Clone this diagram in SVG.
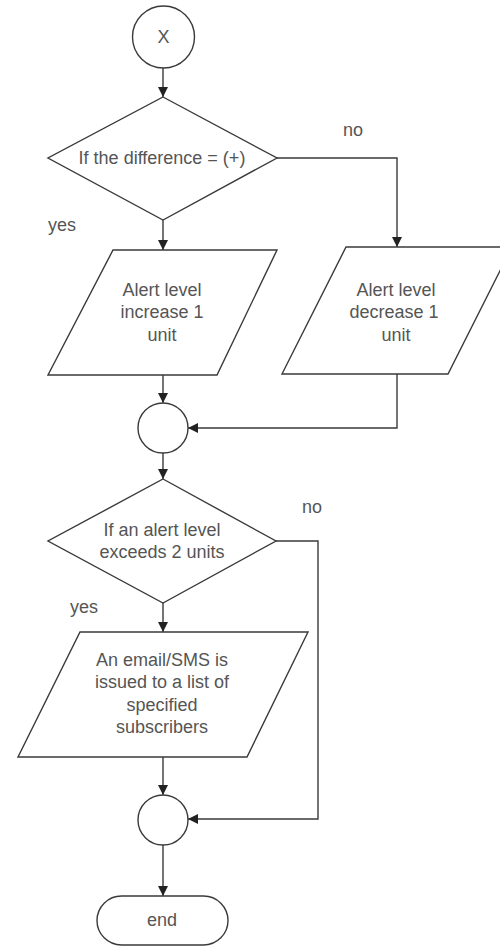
<svg xmlns="http://www.w3.org/2000/svg" width="500" height="947" viewBox="0 0 500 947">
<style>
.s{fill:#fff;stroke:#3a3a3a;stroke-width:1.4}
.c{fill:none;stroke:#3a3a3a;stroke-width:1.4}
text{font-family:"Liberation Sans",Arial,sans-serif;font-size:18px;fill:#555;text-anchor:middle}
.l{text-anchor:start}
</style>
<defs>
<marker id="a" markerUnits="userSpaceOnUse" markerWidth="10" markerHeight="10" refX="10" refY="5" orient="auto">
<path d="M0,0 L10,5 L0,10 z" fill="#222"/>
</marker>
</defs>
<rect width="500" height="947" fill="#fff"/>
<g id="connectors">
<path class="c" d="M163,68 V97" marker-end="url(#a)"/>
<path class="c" d="M163,220 V250" marker-end="url(#a)"/>
<path class="c" d="M277,158 H397 V247" marker-end="url(#a)"/>
<path class="c" d="M163,375 V403" marker-end="url(#a)"/>
<path class="c" d="M397,374 V428 H188" marker-end="url(#a)"/>
<path class="c" d="M163,453 V479" marker-end="url(#a)"/>
<path class="c" d="M163,603 V632" marker-end="url(#a)"/>
<path class="c" d="M276,541 H318 V819 H188" marker-end="url(#a)"/>
<path class="c" d="M163,757 V795" marker-end="url(#a)"/>
<path class="c" d="M163,845 V896" marker-end="url(#a)"/>
<text class="l" x="343" y="136">no</text>
<text class="l" x="48" y="231">yes</text>
<text class="l" x="302" y="513">no</text>
<text class="l" x="70" y="613">yes</text>
</g>
<g id="start">
<circle class="s" cx="163.5" cy="37" r="31"/>
<text x="163.5" y="43">X</text>
</g>
<g id="decision1">
<polygon class="s" points="163,97 277,158 163,220 48,158"/>
<text x="162" y="164">If the difference = (+)</text>
</g>
<g id="increase">
<polygon class="s" points="113,250 277,250 217,375 48,375"/>
<text x="162" y="296">Alert level</text>
<text x="162" y="318">increase 1</text>
<text x="162" y="341">unit</text>
</g>
<g id="decrease">
<polygon class="s" points="346,247 512,247 448,374 282,374"/>
<text x="396" y="296">Alert level</text>
<text x="394" y="318">decrease 1</text>
<text x="396" y="341">unit</text>
</g>
<g id="join1">
<circle class="s" cx="163" cy="428" r="25"/>
</g>
<g id="decision2">
<polygon class="s" points="163,479 276,541 163,603 48,541"/>
<text x="162" y="536">If an alert level</text>
<text x="162" y="558">exceeds 2 units</text>
</g>
<g id="notify">
<polygon class="s" points="80,632 308,632 247,757 18,757"/>
<text x="162" y="666">An email/SMS is</text>
<text x="162" y="688">issued to a list of</text>
<text x="162" y="711">specified</text>
<text x="162" y="733">subscribers</text>
</g>
<g id="join2">
<circle class="s" cx="163" cy="820" r="25"/>
</g>
<g id="end">
<rect class="s" x="97" y="896" width="131" height="49" rx="24.5"/>
<text x="162" y="926">end</text>
</g>
</svg>
